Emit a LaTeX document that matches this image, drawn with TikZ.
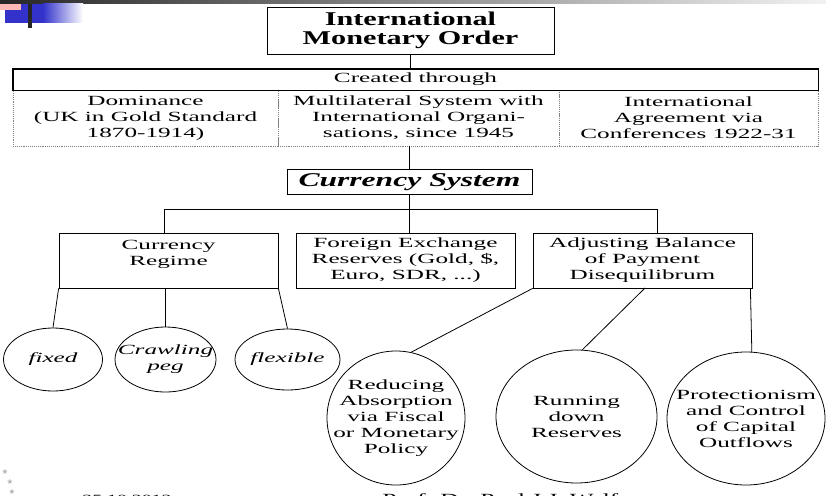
\documentclass[tikz,border=0pt]{standalone}
\usepackage{fontspec}
\setmainfont{Liberation Serif}[FakeStretch=1.8]
\newfontfamily\titlefont{Liberation Serif}[FakeStretch=1.55]
\newfontfamily\csfont{Liberation Serif}[FakeStretch=1.62]
\newfontfamily\symfont{DejaVu Sans}
\usetikzlibrary{shapes.geometric}
\definecolor{slideblue}{HTML}{3333CC}
\definecolor{slidepink}{HTML}{FFB8B8}
\begin{document}
\begin{tikzpicture}[x=1pt,y=-1pt,line width=0.8pt,
  txt/.style={font=\fontsize{14}{16}\selectfont,align=center},
  itxt/.style={font=\fontsize{14}{16}\selectfont\itshape,align=center},
  box/.style={draw,rectangle,inner sep=0pt,txt},
  dbox/.style={draw=gray,densely dotted,line width=0.9pt,rectangle,inner sep=0pt,txt},
  ell/.style={draw,ellipse,inner sep=0pt},
  conn/.style={draw,line width=0.8pt},
  star/.style={text=gray!60,font=\symfont\fontsize{7.5}{7.5}\selectfont,inner sep=0pt}]
\clip (0,0) rectangle (826,495);
\fill[white] (0,0) rectangle (826,495);
% slide decoration
\shade[left color=black!85,right color=black!5] (0,0) rectangle (826,4);
\fill[slidepink] (0,4) rectangle (21,10);
\fill[slideblue] (5,10) rectangle (43,23);
\fill[slideblue] (21,4) rectangle (43,10);
\shade[left color=slideblue,right color=white] (43,4) rectangle (83,23);
\fill[black!85] (28,4) rectangle (32,28);
\node[star] (s1) at (5,472) {★};
\node[star] (s2) at (10,482) {★};
\node[star] (s3) at (12,492) {★};
\node[anchor=base west,font=\fontsize{11}{12}\selectfont,inner sep=0pt] (date) at (82,502) {25.10.2012};
\node[anchor=base west,font=\fontsize{14}{16}\selectfont,inner sep=0pt] (auth) at (382,503) {Prof. Dr. Paul J.J. Welfens};
% top
\node[draw,rectangle,inner sep=0pt,minimum width=287,minimum height=47,align=center,
  font=\titlefont\bfseries\fontsize{19.5}{19.5}\selectfont] (imo) at (410.5,30.5) {International\\Monetary Order};
\node[box,minimum width=805,minimum height=21] (ct) at (415.5,79.5) {Created through};
\node[dbox,minimum width=265,minimum height=56] (dom) at (145.5,118) {Dominance\\(UK in Gold Standard\\1870-1914)};
\node[dbox,minimum width=281,minimum height=56] (mul) at (418.5,118) {Multilateral System with\\International Organi-\\sations, since 1945};
\node[dbox,minimum width=259,minimum height=56] (ia) at (688.5,118) {International\\Agreement via\\Conferences 1922-31};
\draw[line width=0.9pt] (ct.north west) rectangle (ct.south east);
\node[draw,rectangle,inner sep=0pt,minimum width=245,minimum height=25,
  font=\csfont\bfseries\itshape\fontsize{19.5}{20}\selectfont] (cs) at (409.5,182) {Currency System};
% second level
\node[box,minimum width=219,minimum height=55] (cr) at (168.5,260.5) {Currency\\Regime\\~};
\node[box,minimum width=219,minimum height=55] (fx) at (405.5,260.5) {Foreign Exchange\\Reserves (Gold, \$,\\Euro, SDR, ...)};
\node[box,minimum width=219,minimum height=55] (adj) at (642.5,260.5) {Adjusting Balance\\of Payment\\Disequilibrum};
% ellipses
\node[ell,minimum width=99,minimum height=63,label={[itxt]center:fixed}] (fixed) at (53,359.5) {};
\node[ell,minimum width=101,minimum height=65,label={[itxt]center:{Crawling\\peg}}] (crawl) at (165.5,359.5) {};
\node[ell,minimum width=105,minimum height=61,label={[itxt]center:flexible}] (flex) at (287.5,359.5) {};
\node[ell,minimum width=138,minimum height=134,label={[txt]center:{Reducing\\Absorption\\via Fiscal\\or Monetary\\Policy}}] (red) at (396,418) {};
\node[ell,minimum width=161,minimum height=133,label={[txt]center:{Running\\down\\Reserves}}] (run) at (576.5,416.5) {};
\node[ell,minimum width=158,minimum height=133,label={[txt]center:{Protectionism\\and Control\\of Capital\\Outflows}}] (prot) at (746,418.5) {};
% connectors
\coordinate (busL) at (164,209);
\coordinate (busR) at (657,209);
\coordinate (adjm) at (645,288);
\draw[conn] (imo.south) -- (imo.south |- ct.north);
\draw[conn] (mul.south -| cs.north) -- (cs.north);
\draw[conn] (cs.south) -- (cs.south |- fx.north);
\draw[conn] (busL |- cr.north) -- (busL) -- (busR) -- (busR |- adj.north);
\draw[conn] (cr.south west) -- (fixed.north);
\draw[conn] (crawl.north |- cr.south) -- (crawl.north);
\draw[conn] (cr.south east) -- (flex.north);
\draw[conn] (adj.south west) -- (red.77);
\draw[conn] (adjm) -- (run.85);
\draw[conn] ([xshift=-2pt]adj.south east) -- (prot.85);
\end{tikzpicture}
\end{document}
